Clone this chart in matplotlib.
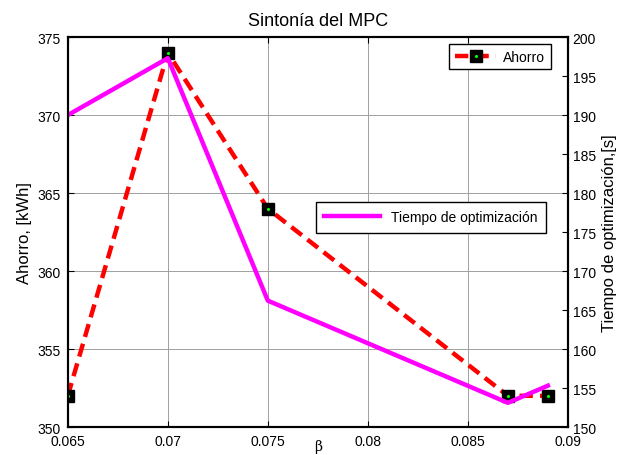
import matplotlib.pyplot as plt

plt.rcParams['font.family'] = ['Liberation Sans', 'DejaVu Sans']

beta = [0.065, 0.07, 0.075, 0.087, 0.089]
ahorro = [352, 374, 364, 352, 352]
tiempo = [190, 197.3, 166.2, 153.1, 155.3]

xticks = [0.065, 0.07, 0.075, 0.08, 0.085, 0.09]
yticks_l = [350, 355, 360, 365, 370, 375]
yticks_r = [150, 155, 160, 165, 170, 175, 180, 185, 190, 195, 200]

fig = plt.figure(figsize=(6.22, 4.56), dpi=100)
ax = fig.add_axes([0.109, 0.0614, 0.804, 0.855])
ax2 = ax.twinx()

ln1, = ax.plot(beta, ahorro, color='red', ls='--', lw=3.2, dashes=(3, 1.6),
               marker='s', ms=8, mfc='black', mec='black', zorder=3)
dots, = ax.plot(beta, ahorro, ls='none', marker='.', ms=2.5, color='#00ff00', zorder=4)
ln2, = ax2.plot(beta, tiempo, color='magenta', lw=3.2)

ax.set_xlim(0.065, 0.09)
ax.set_ylim(350, 375)
ax2.set_ylim(150, 200)
ax.set_xticks(xticks)
ax.set_xticklabels([str(t) for t in xticks])
ax.set_yticks(yticks_l)
ax2.set_yticks(yticks_r)

ax.grid(True, color='#a0a0a0', lw=0.7)
ax.tick_params(direction='in', labelsize=10, top=True, length=4)
ax.tick_params(axis='x', pad=5)
ax.tick_params(axis='y', pad=5)
ax2.tick_params(direction='in', labelsize=10, length=4)
for a in (ax, ax2):
    for s in a.spines.values():
        s.set_linewidth(1.5)

ax.set_title('Sintonía del MPC', fontsize=13, pad=9)
ax.set_xlabel('β', family='DejaVu Serif', fontsize=10)
ax.xaxis.set_label_coords(0.5, -0.03)
ax.set_ylabel('Ahorro, [kWh]', fontsize=12)
ax2.set_ylabel('Tiempo de optimización,[s]', fontsize=12)

ax.legend([(ln1, dots)], ['Ahorro'], loc='upper right',
          bbox_to_anchor=(0.966, 0.982), borderaxespad=0,
          fontsize=10, fancybox=False, edgecolor='black',
          framealpha=1, handlelength=3, handletextpad=0.5)
ax2.legend([ln2], ['Tiempo de optimización'], loc='center right',
           bbox_to_anchor=(0.956, 0.538), borderaxespad=0, fontsize=10,
           fancybox=False, edgecolor='black', framealpha=1, handlelength=4,
           borderpad=0.6)

fig.savefig('out.png', dpi=100)
